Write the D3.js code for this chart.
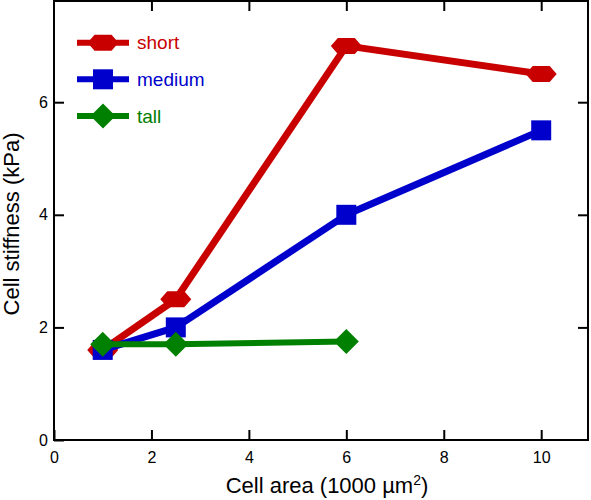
<!DOCTYPE html>
<html>
<head>
<meta charset="utf-8">
<script src="https://cdn.jsdelivr.net/npm/d3@7"></script>
<style>
html,body{margin:0;padding:0;background:#fff;}
text{font-family:"Liberation Sans",Arial,sans-serif;}
</style>
</head>
<body>
<svg id="chart" width="591" height="500"></svg>
<script>
const seriesNames = ["short", "medium", "tall"];
const seriesColors = ["#c80000", "#0000cc", "#008000"];
const seriesShapes = ["hexagon", "square", "diamond"];
const shortX = [1, 2.5, 6, 10];
const shortY = [1.6, 2.5, 7.0, 6.5];
const mediumX = [1, 2.5, 6, 10];
const mediumY = [1.6, 2.0, 4.0, 5.5];
const tallX = [1, 2.5, 6];
const tallY = [1.7, 1.7, 1.75];
const xTicks = [0, 2, 4, 6, 8, 10];
const yTicks = [0, 2, 4, 6];
const xLabel = "Cell area (1000 µm";
const yLabel = "Cell stiffness (kPa)";

const seriesData = [
  shortX.map((x, i) => ({x, y: shortY[i]})),
  mediumX.map((x, i) => ({x, y: mediumY[i]})),
  tallX.map((x, i) => ({x, y: tallY[i]}))
];

const svg = d3.select("#chart");
const L = 54, R = 588, T = 1, B = 440;
const x = d3.scaleLinear().domain([0, 11]).range([L, L + (540.7 - 53.5) * 1.1]);
const y = d3.scaleLinear().domain([0, 7.8]).range([B, B - 56.3 * 7.8]);

// frame
svg.append("rect").attr("x", L).attr("y", T).attr("width", R - L).attr("height", B - T)
  .attr("fill", "none").attr("stroke", "#000").attr("stroke-width", 2);

const fs = 16;
// axes
const xAxis = svg.append("g").attr("transform", `translate(0,${B})`)
  .call(d3.axisBottom(x).tickValues(xTicks).tickSize(-10).tickPadding(16).tickFormat(d3.format("d")));
const xTop = svg.append("g").attr("transform", `translate(0,${T})`)
  .call(d3.axisTop(x).tickValues(xTicks.filter(d => d > 0)).tickSize(-10).tickFormat(""));
const yAxis = svg.append("g").attr("transform", `translate(${L},0)`)
  .call(d3.axisLeft(y).tickValues(yTicks).tickSize(-10).tickPadding(16).tickFormat(d3.format("d")));
const yRight = svg.append("g").attr("transform", `translate(${R},0)`)
  .call(d3.axisRight(y).tickValues(yTicks.filter(d => d > 0)).tickSize(-10).tickFormat(""));
[xAxis, xTop, yAxis, yRight].forEach(g => {
  g.select(".domain").remove();
  g.selectAll(".tick line").attr("stroke", "#000").attr("stroke-width", 2);
  g.selectAll(".tick text").attr("font-size", fs).attr("fill", "#000")
   .attr("font-family", "Liberation Sans, Arial, sans-serif");
});
xAxis.selectAll(".tick text").attr("dy", "0.35em").attr("y", 17);
yAxis.selectAll(".tick text").attr("x", -6);

// markers
function shapePath(shape) {
  if (shape === "hexagon") {
    const w = 31, h = 16, a = 7;
    return `M${-w/2},0L${-w/2+a},${-h/2}L${w/2-a},${-h/2}L${w/2},0L${w/2-a},${h/2}L${-w/2+a},${h/2}Z`;
  }
  if (shape === "square") {
    const s = 20;
    return `M${-s/2},${-s/2}H${s/2}V${s/2}H${-s/2}Z`;
  }
  const d = 12.5;
  return `M0,${-d}L${d},0L0,${d}L${-d},0Z`;
}

const line = d3.line().x(d => x(d.x)).y(d => y(d.y));
seriesData.forEach((data, i) => {
  const g = svg.append("g");
  g.append("path").datum(data).attr("d", line).attr("fill", "none")
    .attr("stroke", seriesColors[i]).attr("stroke-width", i === 2 ? 6 : 7)
    .attr("stroke-linejoin", "round");
  g.selectAll("path.m").data(data).enter().append("path").attr("class", "m")
    .attr("d", shapePath(seriesShapes[i]))
    .attr("transform", d => `translate(${x(d.x)},${y(d.y)})`)
    .attr("fill", seriesColors[i]);
});

// legend
const legY = [42.7, 79.3, 116];
seriesNames.forEach((n, i) => {
  const g = svg.append("g").attr("transform", `translate(0,${legY[i]})`);
  g.append("line").attr("x1", 77).attr("x2", 129).attr("y1", 0).attr("y2", 0)
    .attr("stroke", seriesColors[i]).attr("stroke-width", 6);
  g.append("path").attr("d", shapePath(seriesShapes[i])).attr("transform", "translate(103,0)")
    .attr("fill", seriesColors[i]);
  g.append("text").attr("x", 137).attr("y", 0).attr("dy", "0.35em")
    .attr("font-size", 19).attr("fill", seriesColors[i]).text(n);
});

// axis titles
const xt = svg.append("text").attr("x", 327).attr("y", 493).attr("text-anchor", "middle")
  .attr("font-size", 22).attr("fill", "#000");
xt.append("tspan").text(xLabel);
xt.append("tspan").attr("font-size", 14).attr("dy", -8).text("2");
xt.append("tspan").attr("dy", 8).text(")");

svg.append("text").attr("transform", "translate(19,224) rotate(-90)")
  .attr("text-anchor", "middle").attr("font-size", 22).attr("fill", "#000").text(yLabel);
</script>
</body>
</html>
